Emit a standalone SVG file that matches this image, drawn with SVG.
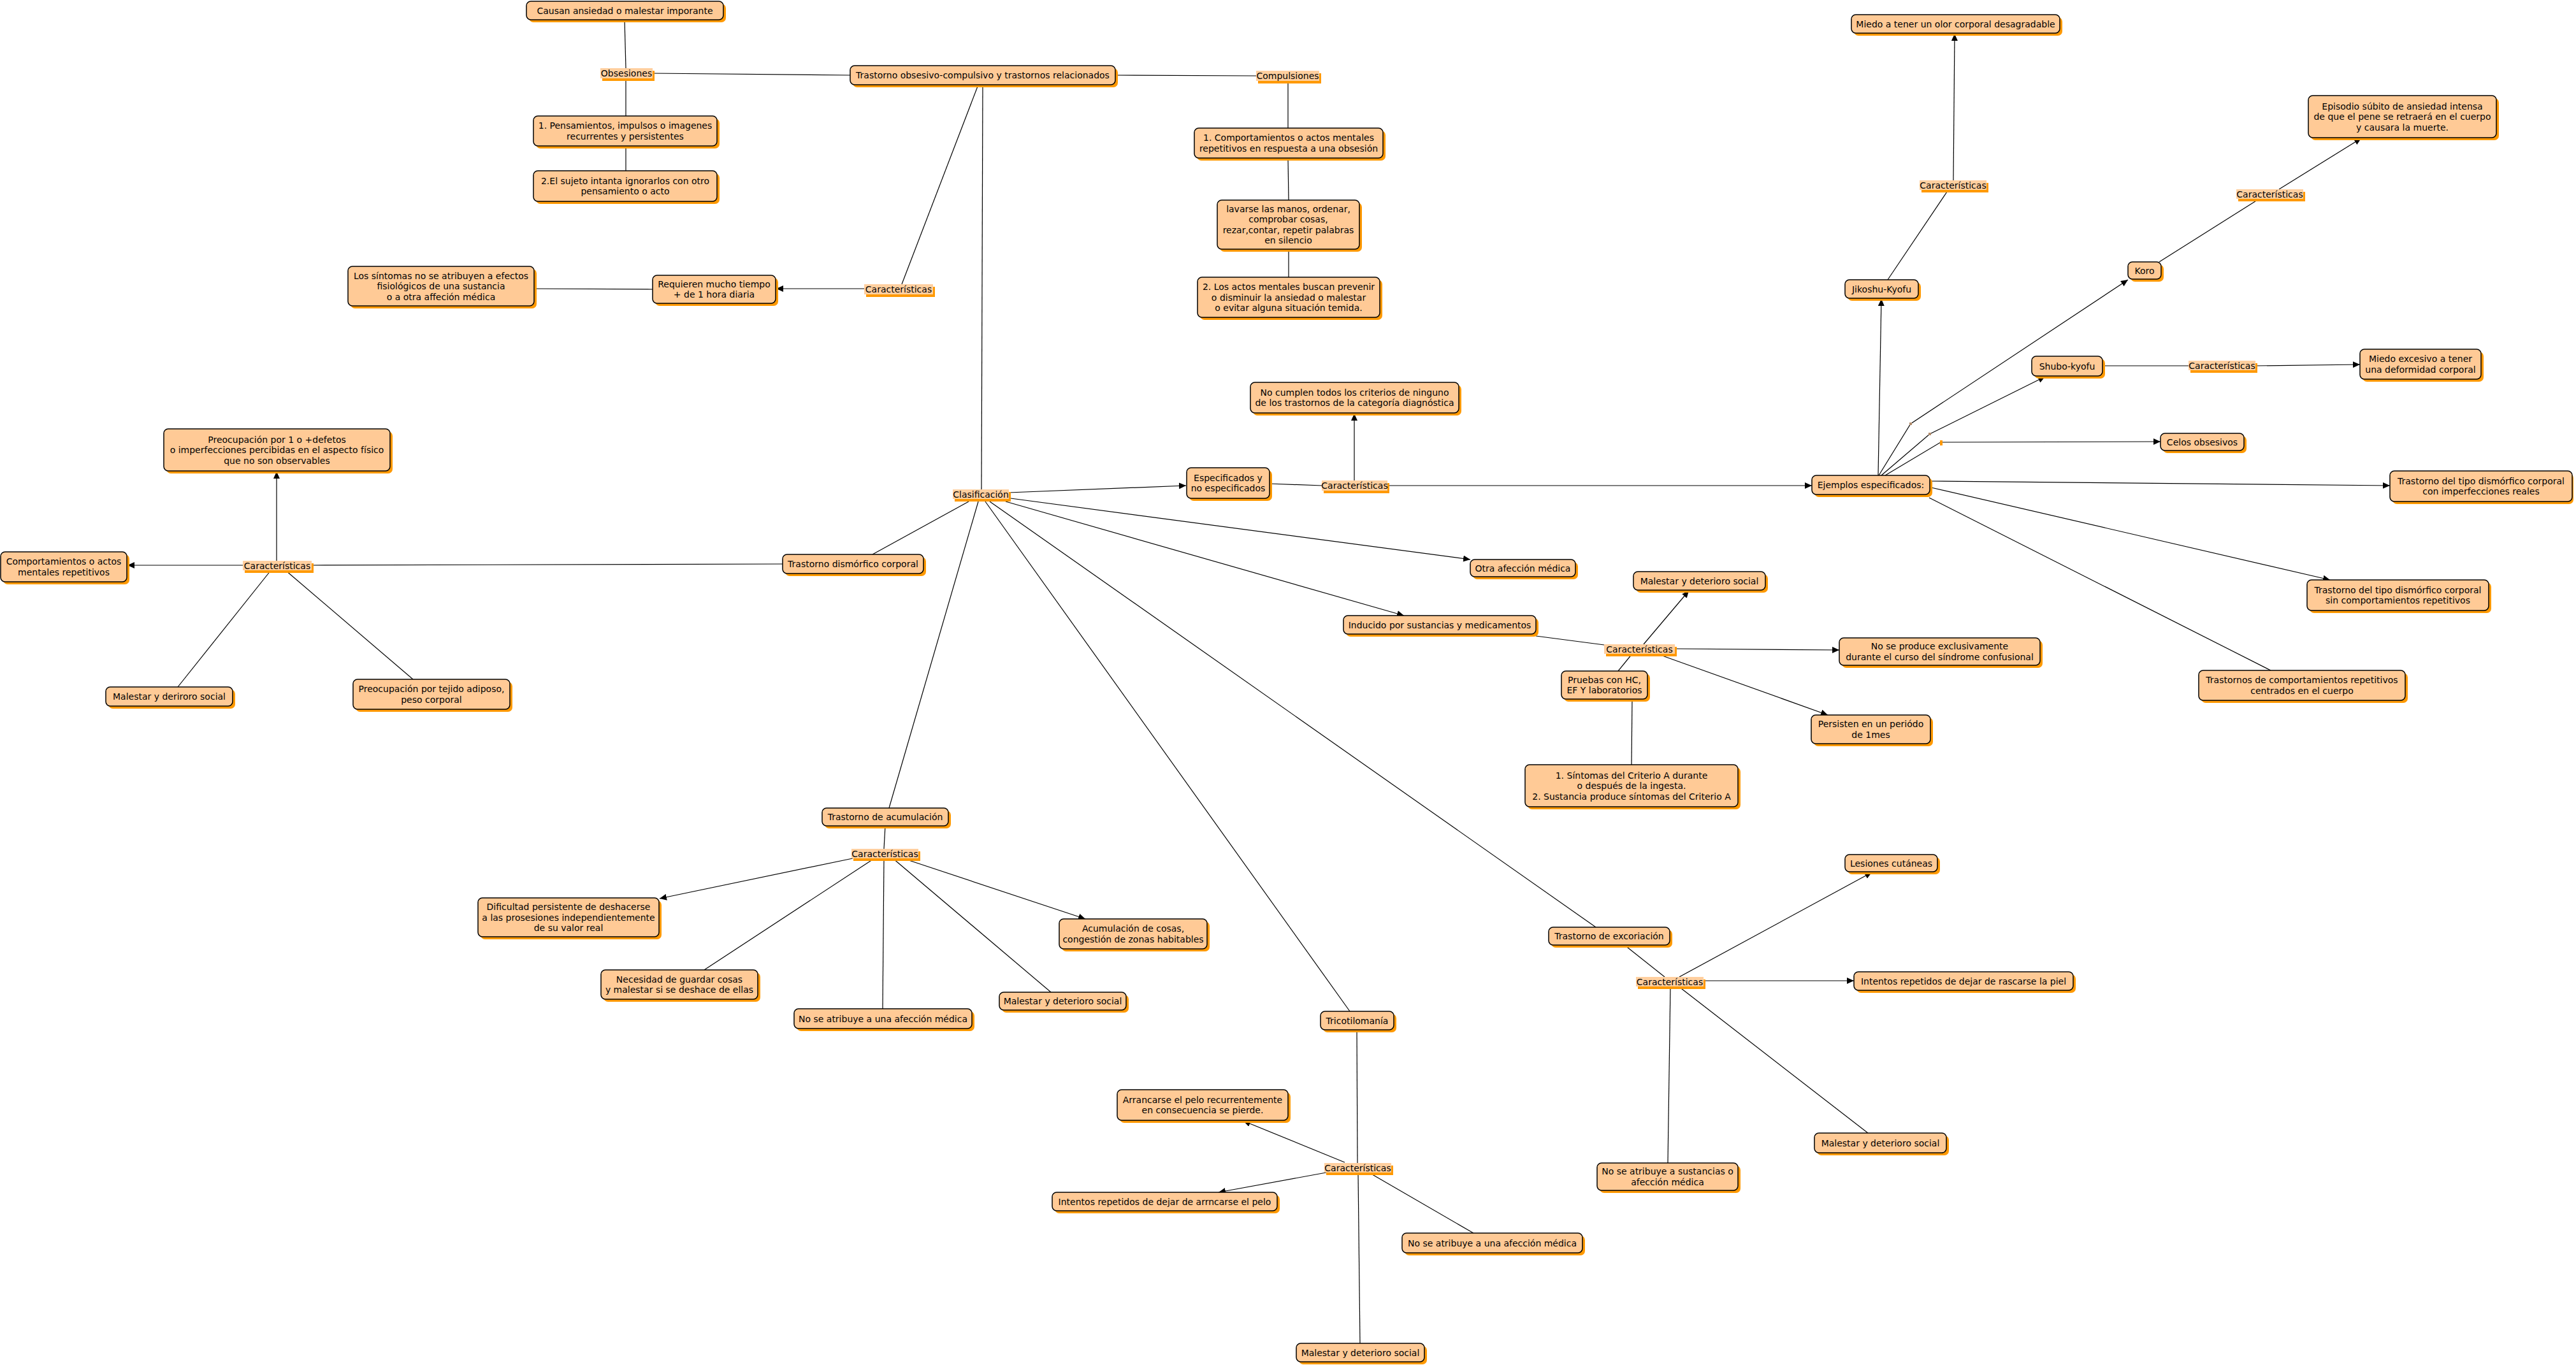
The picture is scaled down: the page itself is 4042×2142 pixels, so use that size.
<svg xmlns="http://www.w3.org/2000/svg" width="4042" height="2142" viewBox="0 0 4042 2142">
<defs>
<marker id="ar" markerUnits="userSpaceOnUse" markerWidth="12" markerHeight="10" refX="11" refY="5" orient="auto"><path d="M0,0 L11,5 L0,10 z" fill="#000"/></marker>
<style>
.sh{fill:#FF9900}
.b{fill:#FFCA96;stroke:#000;stroke-width:1.5}
.lb{fill:#FFCF9F}
text{font-family:"DejaVu Sans",Verdana,sans-serif;font-size:14px;fill:#000;text-anchor:middle}
#edges line,#edges polyline{stroke:#000;stroke-width:1.2;fill:none}
#edges .a{marker-end:url(#ar)}
.wp{fill:#b08a6a}
</style>
</defs>
<rect width="4042" height="2142" fill="#fff"/>
<g id="edges">
<line x1="980" y1="31" x2="982" y2="107"/>
<line x1="982" y1="123" x2="982" y2="182"/>
<line x1="982" y1="229" x2="982" y2="268"/>
<line x1="1024" y1="115" x2="1334" y2="118"/>
<line x1="1750" y1="118" x2="1971" y2="119"/>
<line x1="2021" y1="127" x2="2021" y2="201"/>
<line x1="2021" y1="248" x2="2022" y2="314"/>
<line x1="2022" y1="391" x2="2022" y2="435"/>
<line x1="1535" y1="133" x2="1415" y2="446"/>
<line class="a" x1="1356" y1="453" x2="1218" y2="453"/>
<line x1="1024" y1="454" x2="838" y2="453"/>
<line x1="1542" y1="133" x2="1540" y2="768"/>
<line class="a" x1="1583" y1="773" x2="1861" y2="762"/>
<line class="a" x1="1586" y1="782" x2="2307" y2="878"/>
<line class="a" x1="1578" y1="787" x2="2203" y2="966"/>
<line x1="1520" y1="787" x2="1369" y2="870"/>
<line x1="1535" y1="787" x2="1395" y2="1268"/>
<line x1="1546" y1="787" x2="2118" y2="1587"/>
<line x1="1553" y1="787" x2="2504" y2="1455"/>
<line x1="1228" y1="885" x2="489" y2="887"/>
<line class="a" x1="434" y1="880" x2="434" y2="740"/>
<line class="a" x1="381" y1="887" x2="200" y2="887"/>
<line x1="425" y1="895" x2="279" y2="1078"/>
<line x1="448" y1="895" x2="648" y2="1066"/>
<line x1="1992" y1="759" x2="2074" y2="762"/>
<line class="a" x1="2125" y1="754" x2="2125" y2="649"/>
<line class="a" x1="2177" y1="762" x2="2843" y2="762"/>
<line class="a" x1="2947" y1="746" x2="2952" y2="469"/>
<polyline class="a" points="2948,746 2998,665 3339,439"/>
<polyline class="a" points="2952,746 3028,681 3209,591"/>
<polyline class="a" points="2958,746 3045,694 3390,693"/>
<line x1="2962" y1="439" x2="3057" y2="298"/>
<line class="a" x1="3065" y1="283" x2="3067" y2="53"/>
<line x1="3388" y1="411" x2="3545" y2="312"/>
<line class="a" x1="3576" y1="297" x2="3705" y2="217"/>
<line x1="3299" y1="574" x2="3434" y2="574"/>
<line class="a" x1="3539" y1="574" x2="3703" y2="572"/>
<line class="a" x1="3028" y1="755" x2="3750" y2="762"/>
<line class="a" x1="3030" y1="765" x2="3656" y2="910"/>
<line x1="3027" y1="781" x2="3563" y2="1052"/>
<line x1="2410" y1="998" x2="2517" y2="1012"/>
<line class="a" x1="2579" y1="1011" x2="2650" y2="927"/>
<line class="a" x1="2628" y1="1018" x2="2886" y2="1020"/>
<line class="a" x1="2600" y1="1026" x2="2868" y2="1122"/>
<line x1="2561" y1="1026" x2="2539" y2="1053"/>
<line x1="2561" y1="1097" x2="2560" y2="1200"/>
<line x1="1389" y1="1296" x2="1387" y2="1332"/>
<line class="a" x1="1338" y1="1347" x2="1035" y2="1410"/>
<line x1="1372" y1="1347" x2="1105" y2="1522"/>
<line x1="1387" y1="1347" x2="1385" y2="1583"/>
<line x1="1401" y1="1347" x2="1649" y2="1557"/>
<line class="a" x1="1417" y1="1347" x2="1703" y2="1442"/>
<line x1="2129" y1="1616" x2="2130" y2="1825"/>
<line class="a" x1="2110" y1="1824" x2="1951" y2="1759"/>
<line class="a" x1="2081" y1="1840" x2="1912" y2="1871"/>
<line x1="2148" y1="1840" x2="2312" y2="1935"/>
<line x1="2131" y1="1840" x2="2134" y2="2108"/>
<line x1="2549" y1="1483" x2="2612" y2="1533"/>
<line class="a" x1="2635" y1="1533" x2="2937" y2="1369"/>
<line class="a" x1="2673" y1="1539" x2="2909" y2="1539"/>
<line x1="2634" y1="1548" x2="2931" y2="1778"/>
<line x1="2621" y1="1548" x2="2617" y2="1825"/>
<rect class="wp" x="2996" y="663" width="4" height="4"/>
<rect class="wp" x="3026" y="679" width="4" height="4"/>
<rect x="3044" y="691" width="4" height="8" fill="#FF9900"/>
</g>
<g id="causan"><rect class="sh" x="830" y="6" width="309" height="29" rx="7"/><rect class="b" x="826" y="2" width="309" height="29" rx="7"/><text x="980.5" y="21.5">Causan ansiedad o malestar imporante</text></g>
<g id="toc"><rect class="sh" x="1338" y="107" width="416" height="30" rx="7"/><rect class="b" x="1334" y="103" width="416" height="30" rx="7"/><text x="1542" y="123">Trastorno obsesivo-compulsivo y trastornos relacionados</text></g>
<g id="pens"><rect class="sh" x="841" y="186" width="288" height="47" rx="7"/><rect class="b" x="837" y="182" width="288" height="47" rx="7"/><text x="981" y="202"><tspan x="981">1. Pensamientos, impulsos o imagenes</tspan><tspan x="981" dy="16.5">recurrentes y persistentes</tspan></text></g>
<g id="sujeto"><rect class="sh" x="841" y="272" width="288" height="48" rx="7"/><rect class="b" x="837" y="268" width="288" height="48" rx="7"/><text x="981" y="288.75"><tspan x="981">2.El sujeto intanta ignorarlos con otro</tspan><tspan x="981" dy="16.5">pensamiento o acto</tspan></text></g>
<g id="comp1"><rect class="sh" x="1878" y="205" width="296" height="47" rx="7"/><rect class="b" x="1874" y="201" width="296" height="47" rx="7"/><text x="2022" y="221.25"><tspan x="2022">1. Comportamientos o actos mentales</tspan><tspan x="2022" dy="16.5">repetitivos en respuesta a una obsesión</tspan></text></g>
<g id="lavarse"><rect class="sh" x="1914" y="318" width="223" height="77" rx="7"/><rect class="b" x="1910" y="314" width="223" height="77" rx="7"/><text x="2021.5" y="332.75"><tspan x="2021.5">lavarse las manos, ordenar,</tspan><tspan x="2021.5" dy="16.5">comprobar cosas,</tspan><tspan x="2021.5" dy="16.5">rezar,contar, repetir palabras</tspan><tspan x="2021.5" dy="16.5">en silencio</tspan></text></g>
<g id="actos2"><rect class="sh" x="1883" y="439" width="286" height="63" rx="7"/><rect class="b" x="1879" y="435" width="286" height="63" rx="7"/><text x="2022" y="455"><tspan x="2022">2. Los actos mentales buscan prevenir</tspan><tspan x="2022" dy="16.5">o disminuir la ansiedad o malestar</tspan><tspan x="2022" dy="16.5">o evitar alguna situación temida.</tspan></text></g>
<g id="sintomas"><rect class="sh" x="550" y="422" width="292" height="62" rx="7"/><rect class="b" x="546" y="418" width="292" height="62" rx="7"/><text x="692" y="437.5"><tspan x="692">Los síntomas no se atribuyen a efectos</tspan><tspan x="692" dy="16.5">fisiológicos de una sustancia</tspan><tspan x="692" dy="16.5">o a otra affeción médica</tspan></text></g>
<g id="requieren"><rect class="sh" x="1028" y="436" width="193" height="44" rx="7"/><rect class="b" x="1024" y="432" width="193" height="44" rx="7"/><text x="1120.5" y="450.75"><tspan x="1120.5">Requieren mucho tiempo</tspan><tspan x="1120.5" dy="16.5">+ de 1 hora diaria</tspan></text></g>
<g id="preoc1"><rect class="sh" x="261" y="677" width="355" height="66" rx="7"/><rect class="b" x="257" y="673" width="355" height="66" rx="7"/><text x="434.5" y="694.5"><tspan x="434.5">Preocupación por 1 o +defetos</tspan><tspan x="434.5" dy="16.5">o imperfecciones percibidas en el aspecto físico</tspan><tspan x="434.5" dy="16.5">que no son observables</tspan></text></g>
<g id="comport"><rect class="sh" x="5" y="870" width="198" height="47" rx="7"/><rect class="b" x="1" y="866" width="198" height="47" rx="7"/><text x="100" y="886.25"><tspan x="100">Comportamientos o actos</tspan><tspan x="100" dy="16.5">mentales repetitivos</tspan></text></g>
<g id="malestarL"><rect class="sh" x="170" y="1082" width="199" height="30" rx="7"/><rect class="b" x="166" y="1078" width="199" height="30" rx="7"/><text x="265.5" y="1098">Malestar y deriroro social</text></g>
<g id="tejido"><rect class="sh" x="558" y="1070" width="246" height="47" rx="7"/><rect class="b" x="554" y="1066" width="246" height="47" rx="7"/><text x="677" y="1086.25"><tspan x="677">Preocupación por tejido adiposo,</tspan><tspan x="677" dy="16.5">peso corporal</tspan></text></g>
<g id="dismorf"><rect class="sh" x="1232" y="874" width="221" height="30" rx="7"/><rect class="b" x="1228" y="870" width="221" height="30" rx="7"/><text x="1338.5" y="890">Trastorno dismórfico corporal</text></g>
<g id="nocumplen"><rect class="sh" x="1966" y="604" width="327" height="48" rx="7"/><rect class="b" x="1962" y="600" width="327" height="48" rx="7"/><text x="2125.5" y="620.75"><tspan x="2125.5">No cumplen todos los criterios de ninguno</tspan><tspan x="2125.5" dy="16.5">de los trastornos de la categoría diagnóstica</tspan></text></g>
<g id="espec"><rect class="sh" x="1866" y="738" width="130" height="48" rx="7"/><rect class="b" x="1862" y="734" width="130" height="48" rx="7"/><text x="1927" y="754.75"><tspan x="1927">Especificados y</tspan><tspan x="1927" dy="16.5">no especificados</tspan></text></g>
<g id="ejemplos"><rect class="sh" x="2847" y="750" width="185" height="30" rx="7"/><rect class="b" x="2843" y="746" width="185" height="30" rx="7"/><text x="2935.5" y="766">Ejemplos especificados:</text></g>
<g id="otra"><rect class="sh" x="2311" y="882" width="165" height="27" rx="7"/><rect class="b" x="2307" y="878" width="165" height="27" rx="7"/><text x="2389.5" y="896.5">Otra afección médica</text></g>
<g id="malestarI"><rect class="sh" x="2567" y="901" width="207" height="29" rx="7"/><rect class="b" x="2563" y="897" width="207" height="29" rx="7"/><text x="2666.5" y="916.5">Malestar y deterioro social</text></g>
<g id="inducido"><rect class="sh" x="2112" y="970" width="302" height="29" rx="7"/><rect class="b" x="2108" y="966" width="302" height="29" rx="7"/><text x="2259" y="985.5">Inducido por sustancias y medicamentos</text></g>
<g id="noseproduce"><rect class="sh" x="2890" y="1005" width="315" height="43" rx="7"/><rect class="b" x="2886" y="1001" width="315" height="43" rx="7"/><text x="3043.5" y="1019.25"><tspan x="3043.5">No se produce exclusivamente</tspan><tspan x="3043.5" dy="16.5">durante el curso del síndrome confusional</tspan></text></g>
<g id="pruebas"><rect class="sh" x="2454" y="1057" width="135" height="44" rx="7"/><rect class="b" x="2450" y="1053" width="135" height="44" rx="7"/><text x="2517.5" y="1071.75"><tspan x="2517.5">Pruebas con HC,</tspan><tspan x="2517.5" dy="16.5">EF Y laboratorios</tspan></text></g>
<g id="persisten"><rect class="sh" x="2846" y="1126" width="187" height="45" rx="7"/><rect class="b" x="2842" y="1122" width="187" height="45" rx="7"/><text x="2935.5" y="1141.25"><tspan x="2935.5">Persisten en un periódo</tspan><tspan x="2935.5" dy="16.5">de 1mes</tspan></text></g>
<g id="criterio"><rect class="sh" x="2397" y="1204" width="334" height="66" rx="7"/><rect class="b" x="2393" y="1200" width="334" height="66" rx="7"/><text x="2560" y="1221.5"><tspan x="2560">1. Síntomas del Criterio A durante</tspan><tspan x="2560" dy="16.5">o después de la ingesta.</tspan><tspan x="2560" dy="16.5">2. Sustancia produce síntomas del Criterio A</tspan></text></g>
<g id="miedoolor"><rect class="sh" x="2909" y="27" width="327" height="29" rx="7"/><rect class="b" x="2905" y="23" width="327" height="29" rx="7"/><text x="3068.5" y="42.5">Miedo a tener un olor corporal desagradable</text></g>
<g id="episodio"><rect class="sh" x="3626" y="154" width="295" height="66" rx="7"/><rect class="b" x="3622" y="150" width="295" height="66" rx="7"/><text x="3769.5" y="171.5"><tspan x="3769.5">Episodio súbito de ansiedad intensa</tspan><tspan x="3769.5" dy="16.5">de que el pene se retraerá en el cuerpo</tspan><tspan x="3769.5" dy="16.5">y causara la muerte.</tspan></text></g>
<g id="koro"><rect class="sh" x="3343" y="415" width="52" height="27" rx="7"/><rect class="b" x="3339" y="411" width="52" height="27" rx="7"/><text x="3365" y="429.5">Koro</text></g>
<g id="jikoshu"><rect class="sh" x="2899" y="443" width="115" height="29" rx="7"/><rect class="b" x="2895" y="439" width="115" height="29" rx="7"/><text x="2952.5" y="458.5">Jikoshu-Kyofu</text></g>
<g id="shubo"><rect class="sh" x="3192" y="563" width="111" height="31" rx="7"/><rect class="b" x="3188" y="559" width="111" height="31" rx="7"/><text x="3243.5" y="579.5">Shubo-kyofu</text></g>
<g id="miedoexc"><rect class="sh" x="3707" y="552" width="190" height="47" rx="7"/><rect class="b" x="3703" y="548" width="190" height="47" rx="7"/><text x="3798" y="568.25"><tspan x="3798">Miedo excesivo a tener</tspan><tspan x="3798" dy="16.5">una deformidad corporal</tspan></text></g>
<g id="celos"><rect class="sh" x="3394" y="684" width="131" height="27" rx="7"/><rect class="b" x="3390" y="680" width="131" height="27" rx="7"/><text x="3455.5" y="698.5">Celos obsesivos</text></g>
<g id="imperf"><rect class="sh" x="3754" y="743" width="284" height="48" rx="7"/><rect class="b" x="3750" y="739" width="286" height="48" rx="7"/><text x="3893" y="759.75"><tspan x="3893">Trastorno del tipo dismórfico corporal</tspan><tspan x="3893" dy="16.5">con imperfecciones reales</tspan></text></g>
<g id="sincomp"><rect class="sh" x="3624" y="914" width="285" height="48" rx="7"/><rect class="b" x="3620" y="910" width="285" height="48" rx="7"/><text x="3762.5" y="930.75"><tspan x="3762.5">Trastorno del tipo dismórfico corporal</tspan><tspan x="3762.5" dy="16.5">sin comportamientos repetitivos</tspan></text></g>
<g id="centrados"><rect class="sh" x="3454" y="1056" width="324" height="47" rx="7"/><rect class="b" x="3450" y="1052" width="324" height="47" rx="7"/><text x="3612" y="1072.25"><tspan x="3612">Trastornos de comportamientos repetitivos</tspan><tspan x="3612" dy="16.5">centrados en el cuerpo</tspan></text></g>
<g id="acumul"><rect class="sh" x="1294" y="1272" width="198" height="28" rx="7"/><rect class="b" x="1290" y="1268" width="198" height="28" rx="7"/><text x="1389" y="1287">Trastorno de acumulación</text></g>
<g id="dificultad"><rect class="sh" x="754" y="1413" width="284" height="61" rx="7"/><rect class="b" x="750" y="1409" width="284" height="61" rx="7"/><text x="892" y="1428"><tspan x="892">Dificultad persistente de deshacerse</tspan><tspan x="892" dy="16.5">a las prosesiones independientemente</tspan><tspan x="892" dy="16.5">de su valor real</tspan></text></g>
<g id="acumcosas"><rect class="sh" x="1666" y="1446" width="232" height="47" rx="7"/><rect class="b" x="1662" y="1442" width="232" height="47" rx="7"/><text x="1778" y="1462.25"><tspan x="1778">Acumulación de cosas,</tspan><tspan x="1778" dy="16.5">congestión de zonas habitables</tspan></text></g>
<g id="necesidad"><rect class="sh" x="947" y="1526" width="246" height="46" rx="7"/><rect class="b" x="943" y="1522" width="246" height="46" rx="7"/><text x="1066" y="1541.75"><tspan x="1066">Necesidad de guardar cosas</tspan><tspan x="1066" dy="16.5">y malestar si se deshace de ellas</tspan></text></g>
<g id="noatribA"><rect class="sh" x="1250" y="1587" width="279" height="31" rx="7"/><rect class="b" x="1246" y="1583" width="279" height="31" rx="7"/><text x="1385.5" y="1603.5">No se atribuye a una afección médica</text></g>
<g id="malestarA"><rect class="sh" x="1572" y="1561" width="199" height="28" rx="7"/><rect class="b" x="1568" y="1557" width="199" height="28" rx="7"/><text x="1667.5" y="1576">Malestar y deterioro social</text></g>
<g id="trico"><rect class="sh" x="2076" y="1591" width="115" height="29" rx="7"/><rect class="b" x="2072" y="1587" width="115" height="29" rx="7"/><text x="2129.5" y="1606.5">Tricotilomanía</text></g>
<g id="arrancarse"><rect class="sh" x="1757" y="1714" width="268" height="48" rx="7"/><rect class="b" x="1753" y="1710" width="268" height="48" rx="7"/><text x="1887" y="1730.75"><tspan x="1887">Arrancarse el pelo recurrentemente</tspan><tspan x="1887" dy="16.5">en consecuencia se pierde.</tspan></text></g>
<g id="intentosT"><rect class="sh" x="1655" y="1875" width="353" height="29" rx="7"/><rect class="b" x="1651" y="1871" width="353" height="29" rx="7"/><text x="1827.5" y="1890.5">Intentos repetidos de dejar de arrncarse el pelo</text></g>
<g id="noatribT"><rect class="sh" x="2204" y="1939" width="283" height="31" rx="7"/><rect class="b" x="2200" y="1935" width="283" height="31" rx="7"/><text x="2341.5" y="1955.5">No se atribuye a una afección médica</text></g>
<g id="malestarT"><rect class="sh" x="2038" y="2112" width="201" height="29" rx="7"/><rect class="b" x="2034" y="2108" width="201" height="29" rx="7"/><text x="2134.5" y="2127.5">Malestar y deterioro social</text></g>
<g id="lesiones"><rect class="sh" x="2899" y="1345" width="145" height="27" rx="7"/><rect class="b" x="2895" y="1341" width="145" height="27" rx="7"/><text x="2967.5" y="1359.5">Lesiones cutáneas</text></g>
<g id="excor"><rect class="sh" x="2434" y="1459" width="190" height="28" rx="7"/><rect class="b" x="2430" y="1455" width="190" height="28" rx="7"/><text x="2525" y="1474">Trastorno de excoriación</text></g>
<g id="intentosE"><rect class="sh" x="2913" y="1529" width="344" height="29" rx="7"/><rect class="b" x="2909" y="1525" width="344" height="29" rx="7"/><text x="3081" y="1544.5">Intentos repetidos de dejar de rascarse la piel</text></g>
<g id="malestarE"><rect class="sh" x="2851" y="1782" width="207" height="31" rx="7"/><rect class="b" x="2847" y="1778" width="207" height="31" rx="7"/><text x="2950.5" y="1798.5">Malestar y deterioro social</text></g>
<g id="noatribE"><rect class="sh" x="2510" y="1829" width="221" height="43" rx="7"/><rect class="b" x="2506" y="1825" width="221" height="43" rx="7"/><text x="2616.5" y="1843.25"><tspan x="2616.5">No se atribuye a sustancias o</tspan><tspan x="2616.5" dy="16.5">afección médica</tspan></text></g>
<g id="lbl-obsesiones"><rect class="sh" x="945" y="111" width="82" height="16"/><rect class="lb" x="942" y="107" width="82" height="16"/><text x="983" y="120">Obsesiones</text></g>
<g id="lbl-compulsiones"><rect class="sh" x="1974" y="115" width="99" height="16"/><rect class="lb" x="1971" y="111" width="99" height="16"/><text x="2020.5" y="124">Compulsiones</text></g>
<g id="lbl-caracTOC"><rect class="sh" x="1359" y="450" width="108" height="16"/><rect class="lb" x="1356" y="446" width="108" height="16"/><text x="1410" y="459">Características</text></g>
<g id="lbl-clasif"><rect class="sh" x="1498" y="772" width="88" height="15"/><rect class="lb" x="1495" y="768" width="88" height="15"/><text x="1539" y="780.5">Clasificación</text></g>
<g id="lbl-caracDism"><rect class="sh" x="384" y="884" width="108" height="15"/><rect class="lb" x="381" y="880" width="108" height="15"/><text x="435" y="892.5">Características</text></g>
<g id="lbl-caracEsp"><rect class="sh" x="2077" y="758" width="103" height="16"/><rect class="lb" x="2074" y="754" width="103" height="16"/><text x="2125.5" y="767">Características</text></g>
<g id="lbl-caracJik"><rect class="sh" x="3015" y="287" width="105" height="15"/><rect class="lb" x="3012" y="283" width="105" height="15"/><text x="3064.5" y="295.5">Características</text></g>
<g id="lbl-caracKoro"><rect class="sh" x="3512" y="301" width="105" height="15"/><rect class="lb" x="3509" y="297" width="105" height="15"/><text x="3561.5" y="309.5">Características</text></g>
<g id="lbl-caracShubo"><rect class="sh" x="3437" y="570" width="105" height="15"/><rect class="lb" x="3434" y="566" width="105" height="15"/><text x="3486.5" y="578.5">Características</text></g>
<g id="lbl-caracInd"><rect class="sh" x="2520" y="1015" width="111" height="15"/><rect class="lb" x="2517" y="1011" width="111" height="15"/><text x="2572.5" y="1023.5">Características</text></g>
<g id="lbl-caracAcum"><rect class="sh" x="1339" y="1336" width="105" height="15"/><rect class="lb" x="1336" y="1332" width="105" height="15"/><text x="1388.5" y="1344.5">Características</text></g>
<g id="lbl-caracTrico"><rect class="sh" x="2081" y="1829" width="105" height="15"/><rect class="lb" x="2078" y="1825" width="105" height="15"/><text x="2130.5" y="1837.5">Características</text></g>
<g id="lbl-caracExc"><rect class="sh" x="2570" y="1537" width="106" height="15"/><rect class="lb" x="2567" y="1533" width="106" height="15"/><text x="2620" y="1545.5">Características</text></g>
</svg>
